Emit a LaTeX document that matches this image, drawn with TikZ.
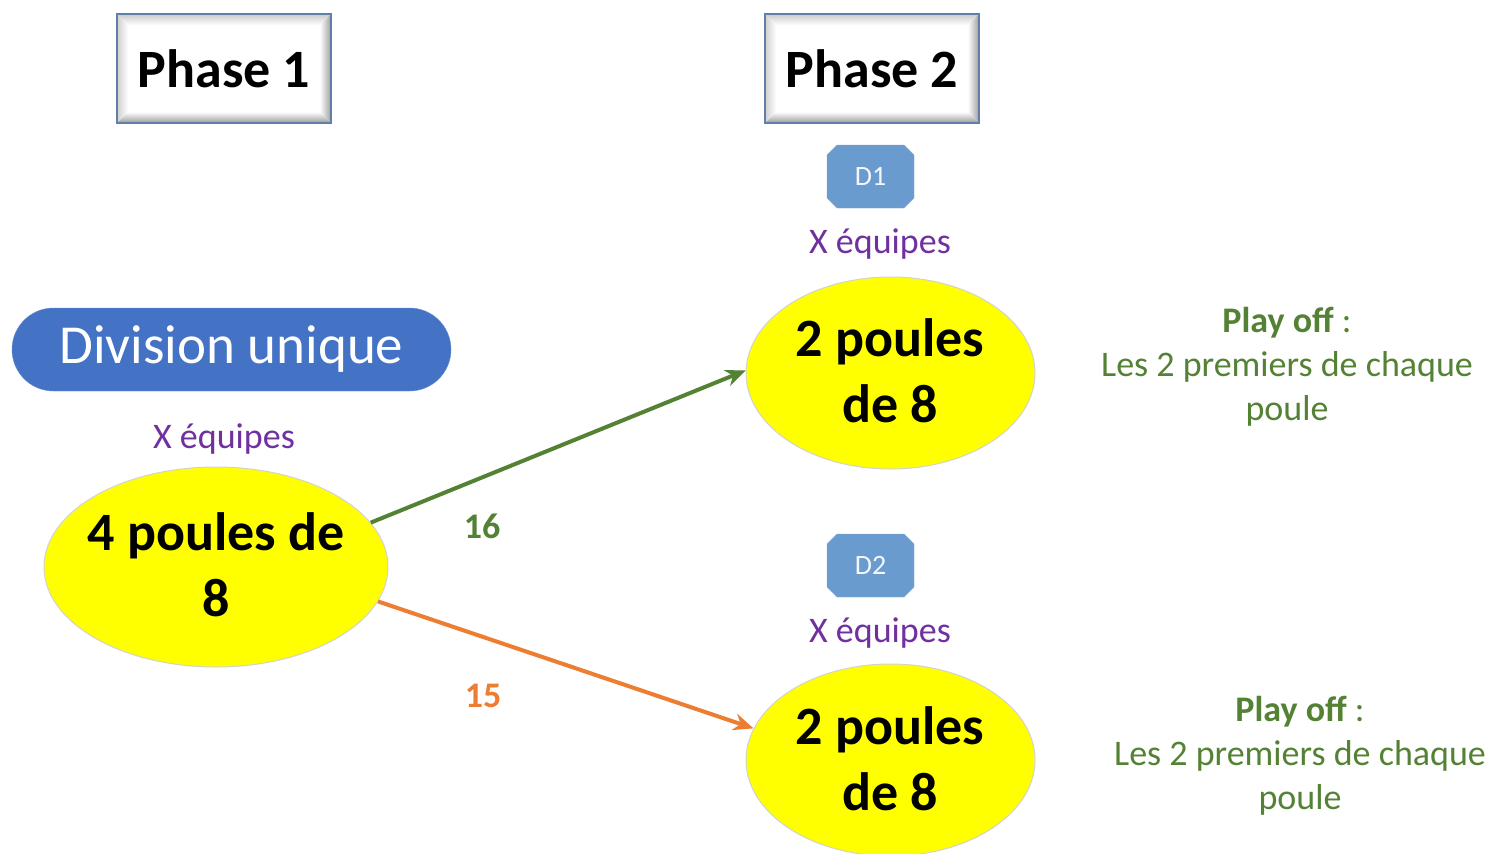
\documentclass[tikz,border=0pt]{standalone}
\usepackage{fontspec}
\setmainfont{Carlito}
\usetikzlibrary{shapes.geometric,shapes.misc,backgrounds,arrows.meta}
\definecolor{pblue}{HTML}{4472C4}
\definecolor{dblue}{HTML}{6A9BCF}
\definecolor{purp}{HTML}{7030A0}
\definecolor{dgreen}{HTML}{548235}
\definecolor{dorange}{HTML}{ED7D31}
\definecolor{bevb}{HTML}{5F7FA8}
\definecolor{pyellow}{HTML}{FFFF00}
\tikzset{
  phasebox/.style={draw=bevb, line width=1.5pt, minimum width=214pt, minimum height=109pt, inner sep=0pt,
    font=\fontsize{54}{60}\selectfont\bfseries},
  pill/.style={rounded rectangle, fill=pblue, draw=pblue!80!white, minimum width=439pt, minimum height=83pt,
    inner sep=0pt, text=white, font=\fontsize{55}{60}\selectfont},
  poule/.style={ellipse, fill=pyellow, draw=gray!35, line width=1pt, inner sep=0pt},
  poulet/.style={align=center, inner sep=0pt, font=\fontsize{54}{66}\selectfont\bfseries},
  dbox/.style={chamfered rectangle, chamfered rectangle xsep=5pt, chamfered rectangle ysep=5pt,
    fill=dblue, draw=dblue!80!white, minimum width=87pt, minimum height=63pt, inner sep=0pt,
    text=white!92!dblue, font=\fontsize{28}{32}\selectfont},
  equipes/.style={text=purp, font=\fontsize{36}{40}\selectfont, inner sep=0pt},
  playoff/.style={text=dgreen, align=center, font=\fontsize{36}{44}\selectfont, inner sep=0pt},
  num/.style={font=\fontsize{36}{40}\selectfont\bfseries, inner sep=0pt},
  conn/.style={line width=4pt, -{Stealth[length=20pt,width=17pt]}},
}
\newcommand{\bevel}[1]{%
  \begin{scope}[on background layer]
    \fill[white] (#1.north west) rectangle (#1.south east);
    \shade[top color=gray!45, bottom color=white] (#1.north west) -- (#1.north east) -- ([shift={(-12,12)}]#1.north east) -- ([shift={(12,12)}]#1.north west) -- cycle;
    \shade[left color=gray!40, right color=white] (#1.north west) -- ([shift={(12,12)}]#1.north west) -- ([shift={(12,-12)}]#1.south west) -- (#1.south west) -- cycle;
    \shade[left color=white, right color=gray!80] (#1.north east) -- ([shift={(-12,12)}]#1.north east) -- ([shift={(-12,-12)}]#1.south east) -- (#1.south east) -- cycle;
    \shade[top color=white, bottom color=gray!85] (#1.south west) -- ([shift={(12,-12)}]#1.south west) -- ([shift={(-12,-12)}]#1.south east) -- (#1.south east) -- cycle;
  \end{scope}}
\begin{document}
\begin{tikzpicture}[x=1pt,y=-1pt]
\begin{scope}[on background layer]
\fill[white] (0,0) rectangle (1497,854);
\end{scope}
\useasboundingbox (0,0) rectangle (1497,854);
\node[phasebox] (ph1) at (224,68.5) {Phase 1};
\bevel{ph1}
\node[phasebox] (ph2) at (872,68.5) {Phase 2};
\bevel{ph2}

\node[pill] (div) at (231.5,349.5) {Division unique};
\node[equipes] (eq0) at (224,439) {X équipes};
\node[poule, minimum width=344pt, minimum height=200pt] (e1) at (216,567) {};
\node[poulet] (t1) at (216,565) {4 poules de\\8};

\node[dbox] (d1) at (870.5,176.5) {D1};
\node[equipes] (eq1) at (880,244) {X équipes};
\node[poule, minimum width=289pt, minimum height=192pt] (e2) at (890.5,373) {};
\node[poulet] (t2) at (890,371) {2 poules\\de 8};

\node[dbox] (d2) at (870.5,565.5) {D2};
\node[equipes] (eq2) at (880,633) {X équipes};
\node[poule, minimum width=289pt, minimum height=192pt] (e3) at (890.5,760) {};
\node[poulet] (t3) at (890,759) {2 poules\\de 8};

\node[playoff] (po1) at (1287,366.5) {\textbf{Play off} :\\Les 2 premiers de chaque\\poule};
\node[playoff] (po2) at (1300,756) {\textbf{Play off} :\\Les 2 premiers de chaque\\poule};

\draw[conn, dgreen] (e1.16) -- (e2.179);
\draw[conn, dorange] (e1.-12.5) -- (e3.167);
\node[num, text=dgreen] (n16) at (482,526) {16};
\node[num, text=dorange] (n15) at (483,696) {15};
\end{tikzpicture}
\end{document}
